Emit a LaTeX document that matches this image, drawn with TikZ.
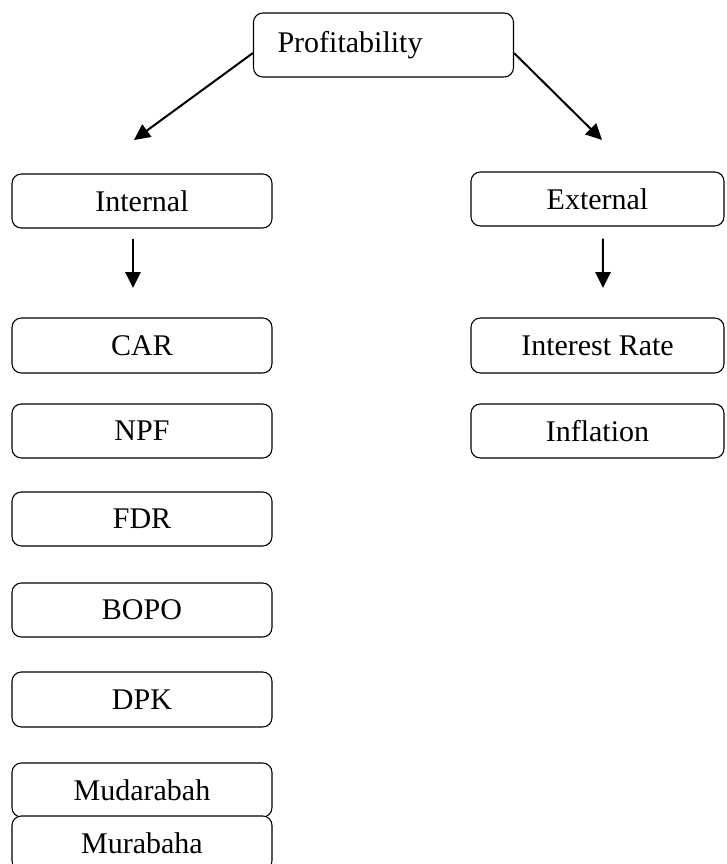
\documentclass[tikz,border=0pt]{standalone}
\usepackage{fontspec}
\setmainfont{Liberation Serif}
\usetikzlibrary{arrows.meta}
\begin{document}
\begin{tikzpicture}[x=0.75pt,y=-0.75pt,
  box/.style={draw=black,line width=0.8pt,rounded corners=7pt,fill=white,
    inner sep=0pt,minimum height=40.5pt,font=\fontsize{22.5}{27}\selectfont},
  lbox/.style={box,minimum width=195pt},
  rbox/.style={box,minimum width=189.75pt},
  arr/.style={line width=1.5pt,-{Triangle[length=12pt,width=11.5pt]}}]
\useasboundingbox (0,0) rectangle (726,864);
% top
\node[box,minimum height=48pt,text width=159pt,inner xsep=18pt,align=left] (prof) at (383.5,45) {Profitability};
\node[lbox] (int) at (142,201) {Internal};
\node[rbox] (ext) at (597.5,199) {External};
% left column
\node[lbox,minimum height=41.25pt] (car) at (142,345.5) {CAR};
\node[lbox] (npf) at (142,431) {NPF};
\node[lbox] (fdr) at (142,519) {FDR};
\node[lbox] (bopo) at (142,610) {BOPO};
\node[lbox,minimum height=41.25pt] (dpk) at (142,699.5) {DPK};
\node[lbox] (mud) at (142,790) {Mudarabah};
\node[lbox] (mur) at (142,843) {Murabaha};
% right column
\node[rbox,minimum height=41.25pt] (ir) at (597.5,345.5) {Interest Rate};
\node[rbox] (inf) at (597.5,431) {Inflation};
% arrow tips
\coordinate (ltip) at (134,140);
\coordinate (rtip) at (602,140);
\coordinate (itip) at (133,288);
\coordinate (etip) at (603,288);
\draw[arr] ([yshift=-6pt]prof.west) -- (ltip);
\draw[arr] ([yshift=-6pt]prof.east) -- (rtip);
\draw[arr] ([xshift=-6.75pt,yshift=-7.5pt]int.south) -- (itip);
\draw[arr] ([xshift=4.1pt,yshift=-9pt]ext.south) -- (etip);
\end{tikzpicture}
\end{document}
